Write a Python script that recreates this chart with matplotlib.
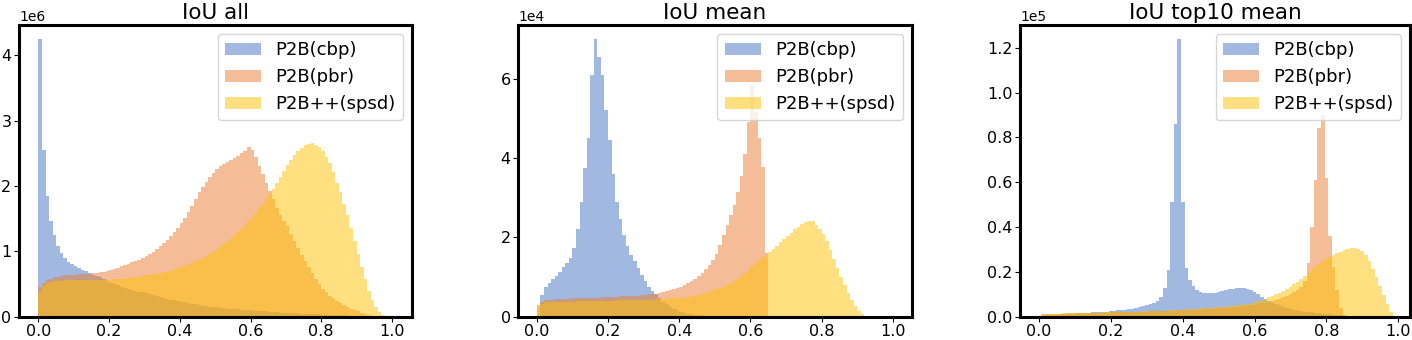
import numpy as np
import matplotlib
matplotlib.use('Agg')
import matplotlib.pyplot as plt

# histogram bin heights (100 bins per series)
labels = ['P2B(cbp)', 'P2B(pbr)', 'P2B++(spsd)']
titles = ['IoU all', 'IoU mean', 'IoU top10 mean']
scales = [1e6, 1e4, 1e5]
bin_start = [0.0, 0.0, 0.005]
bin_width = 0.01
x_ticks = [0.0, 0.2, 0.4, 0.6, 0.8, 1.0]
y_ticks = [[0, 1, 2, 3, 4],
           [0, 2, 4, 6],
           [0.0, 0.2, 0.4, 0.6, 0.8, 1.0, 1.2]]

# IoU all (x1e6)
blue_all = [4.25, 2.55, 1.85, 1.46, 1.25, 1.08, 0.98, 0.90, 0.84, 0.80,
            0.77, 0.74, 0.72, 0.70, 0.67, 0.64, 0.62, 0.60, 0.57, 0.55,
            0.52, 0.50, 0.48, 0.46, 0.44, 0.42, 0.41, 0.39, 0.38, 0.37,
            0.36, 0.34, 0.33, 0.31, 0.30, 0.29, 0.27, 0.26, 0.25, 0.24,
            0.23, 0.22, 0.21, 0.20, 0.19, 0.18, 0.17, 0.16, 0.155, 0.15,
            0.145, 0.14, 0.13, 0.125, 0.12, 0.115, 0.11, 0.105, 0.10, 0.10,
            0.095, 0.09, 0.085, 0.08, 0.08, 0.075, 0.07, 0.065, 0.06, 0.06,
            0.055, 0.055, 0.05, 0.05, 0.045, 0.045, 0.04, 0.04, 0.035, 0.035,
            0.03, 0.03, 0.03, 0.025, 0.025, 0.02, 0.02, 0.02, 0.015, 0.015,
            0.01, 0.01, 0.01, 0.008, 0.006, 0.005, 0.003, 0.002, 0.001, 0.0]
orange_all = [0.45, 0.52, 0.56, 0.58, 0.60, 0.61, 0.62, 0.63, 0.63, 0.64,
              0.64, 0.65, 0.65, 0.66, 0.66, 0.67, 0.67, 0.68, 0.69, 0.70,
              0.71, 0.73, 0.75, 0.77, 0.79, 0.81, 0.83, 0.85, 0.87, 0.90,
              0.93, 0.96, 0.99, 1.03, 1.08, 1.13, 1.18, 1.24, 1.30, 1.36,
              1.43, 1.51, 1.60, 1.70, 1.80, 1.90, 1.98, 2.06, 2.14, 2.20,
              2.26, 2.30, 2.34, 2.37, 2.40, 2.43, 2.46, 2.50, 2.54, 2.60,
              2.55, 2.45, 2.30, 2.18, 2.05, 1.93, 1.80, 1.67, 1.55, 1.47,
              1.38, 1.27, 1.16, 1.05, 0.95, 0.85, 0.76, 0.67, 0.58, 0.50,
              0.43, 0.37, 0.32, 0.28, 0.24, 0.21, 0.18, 0.15, 0.12, 0.10,
              0.08, 0.06, 0.04, 0.02, 0.01, 0.0, 0.0, 0.0, 0.0, 0.0]
yellow_all = [0.38, 0.47, 0.51, 0.53, 0.54, 0.55, 0.55, 0.56, 0.56, 0.56,
              0.56, 0.56, 0.56, 0.56, 0.56, 0.56, 0.56, 0.56, 0.56, 0.56,
              0.56, 0.57, 0.57, 0.58, 0.58, 0.59, 0.60, 0.60, 0.61, 0.62,
              0.63, 0.64, 0.65, 0.66, 0.67, 0.68, 0.69, 0.71, 0.72, 0.74,
              0.76, 0.78, 0.80, 0.82, 0.85, 0.87, 0.90, 0.93, 0.96, 0.99,
              1.03, 1.07, 1.11, 1.15, 1.20, 1.24, 1.29, 1.34, 1.40, 1.46,
              1.52, 1.59, 1.66, 1.73, 1.80, 1.87, 1.96, 2.05, 2.14, 2.23,
              2.32, 2.40, 2.47, 2.53, 2.58, 2.62, 2.64, 2.65, 2.63, 2.59,
              2.53, 2.45, 2.35, 2.22, 2.05, 1.90, 1.72, 1.55, 1.36, 1.16,
              0.96, 0.76, 0.57, 0.40, 0.26, 0.15, 0.07, 0.02, 0.0, 0.0]

# IoU mean (x1e4)
blue_mean = [0.0, 0.55, 0.76, 0.86, 0.95, 1.03, 1.12, 1.25, 1.36, 1.47,
             1.72, 2.20, 2.90, 3.75, 4.50, 6.10, 7.00, 6.55, 6.10, 5.20,
             4.45, 3.60, 2.90, 2.45, 2.05, 1.78, 1.55, 1.40, 1.22, 1.05,
             0.90, 0.75, 0.65, 0.56, 0.46, 0.38, 0.31, 0.25, 0.20, 0.16,
             0.13, 0.10, 0.08, 0.06, 0.05, 0.04, 0.03, 0.025, 0.02, 0.015,
             0.01, 0.01, 0.01, 0.008, 0.008, 0.006, 0.006, 0.005, 0.005, 0.005,
             0.0, 0.0, 0.0, 0.0, 0.0, 0.0, 0.0, 0.0, 0.0, 0.0,
             0.0, 0.0, 0.0, 0.0, 0.0, 0.0, 0.0, 0.0, 0.0, 0.0,
             0.0, 0.0, 0.0, 0.0, 0.0, 0.0, 0.0, 0.0, 0.0, 0.0,
             0.0, 0.0, 0.0, 0.0, 0.0, 0.0, 0.0, 0.0, 0.0, 0.0]
orange_mean = [0.30, 0.38, 0.41, 0.42, 0.43, 0.44, 0.44, 0.45, 0.45, 0.46,
               0.46, 0.46, 0.47, 0.47, 0.47, 0.48, 0.48, 0.48, 0.49, 0.49,
               0.49, 0.50, 0.50, 0.51, 0.51, 0.52, 0.52, 0.53, 0.53, 0.54,
               0.55, 0.56, 0.57, 0.58, 0.60, 0.62, 0.64, 0.66, 0.69, 0.72,
               0.76, 0.80, 0.85, 0.90, 0.96, 1.03, 1.10, 1.19, 1.29, 1.42,
               1.58, 1.80, 2.05, 2.30, 2.55, 2.82, 3.15, 3.55, 4.10, 4.90,
               5.80, 5.15, 4.50, 3.76, 1.60, 0.0, 0.0, 0.0, 0.0, 0.0,
               0.0, 0.0, 0.0, 0.0, 0.0, 0.0, 0.0, 0.0, 0.0, 0.0,
               0.0, 0.0, 0.0, 0.0, 0.0, 0.0, 0.0, 0.0, 0.0, 0.0,
               0.0, 0.0, 0.0, 0.0, 0.0, 0.0, 0.0, 0.0, 0.0, 0.0]
yellow_mean = [0.25, 0.33, 0.36, 0.37, 0.38, 0.38, 0.38, 0.38, 0.38, 0.38,
               0.38, 0.39, 0.39, 0.39, 0.39, 0.39, 0.39, 0.39, 0.40, 0.40,
               0.40, 0.40, 0.41, 0.41, 0.41, 0.41, 0.42, 0.42, 0.42, 0.42,
               0.43, 0.43, 0.43, 0.44, 0.44, 0.45, 0.45, 0.46, 0.46, 0.47,
               0.47, 0.48, 0.50, 0.51, 0.53, 0.55, 0.57, 0.60, 0.63, 0.66,
               0.69, 0.72, 0.76, 0.80, 0.85, 0.90, 0.96, 1.03, 1.10, 1.18,
               1.26, 1.34, 1.42, 1.50, 1.56, 1.62, 1.70, 1.78, 1.87, 1.96,
               2.04, 2.12, 2.20, 2.27, 2.33, 2.38, 2.41, 2.40, 2.32, 2.22,
               2.08, 1.90, 1.68, 1.45, 1.22, 1.00, 0.80, 0.60, 0.42, 0.27,
               0.15, 0.06, 0.02, 0.0, 0.0, 0.0, 0.0, 0.0, 0.0, 0.0]

# IoU top10 mean (x1e5)
blue_top10 = [0.005, 0.006, 0.007, 0.008, 0.009, 0.010, 0.011, 0.012, 0.013, 0.014,
              0.015, 0.016, 0.017, 0.018, 0.019, 0.020, 0.021, 0.022, 0.023, 0.024,
              0.026, 0.028, 0.030, 0.032, 0.034, 0.036, 0.039, 0.042, 0.046, 0.050,
              0.055, 0.062, 0.072, 0.090, 0.127, 0.210, 0.510, 0.860, 1.240, 0.510,
              0.217, 0.165, 0.137, 0.120, 0.112, 0.107, 0.105, 0.105, 0.107, 0.110,
              0.114, 0.118, 0.122, 0.125, 0.127, 0.128, 0.126, 0.122, 0.117, 0.110,
              0.100, 0.090, 0.080, 0.071, 0.063, 0.056, 0.050, 0.045, 0.040, 0.036,
              0.032, 0.029, 0.026, 0.023, 0.021, 0.019, 0.017, 0.015, 0.013, 0.011,
              0.010, 0.009, 0.008, 0.007, 0.006, 0.005, 0.004, 0.003, 0.002, 0.002,
              0.001, 0.0, 0.0, 0.0, 0.0, 0.0, 0.0, 0.0, 0.0, 0.0]
orange_top10 = [0.012, 0.013, 0.013, 0.013, 0.014, 0.014, 0.014, 0.015, 0.015, 0.015,
                0.016, 0.016, 0.016, 0.017, 0.017, 0.017, 0.018, 0.018, 0.018, 0.019,
                0.019, 0.020, 0.020, 0.020, 0.021, 0.021, 0.022, 0.022, 0.023, 0.023,
                0.024, 0.024, 0.025, 0.025, 0.026, 0.026, 0.027, 0.027, 0.028, 0.028,
                0.029, 0.030, 0.030, 0.031, 0.032, 0.033, 0.034, 0.035, 0.036, 0.037,
                0.038, 0.039, 0.041, 0.042, 0.044, 0.045, 0.047, 0.049, 0.051, 0.053,
                0.056, 0.059, 0.062, 0.066, 0.070, 0.075, 0.080, 0.086, 0.093, 0.101,
                0.110, 0.120, 0.132, 0.160, 0.240, 0.400, 0.610, 0.840, 0.900, 0.620,
                0.360, 0.220, 0.120, 0.040, 0.0, 0.0, 0.0, 0.0, 0.0, 0.0,
                0.0, 0.0, 0.0, 0.0, 0.0, 0.0, 0.0, 0.0, 0.0, 0.0]
yellow_top10 = [0.012, 0.013, 0.013, 0.014, 0.014, 0.014, 0.015, 0.015, 0.015, 0.016,
                0.016, 0.016, 0.017, 0.017, 0.017, 0.018, 0.018, 0.019, 0.019, 0.019,
                0.020, 0.020, 0.021, 0.021, 0.022, 0.022, 0.023, 0.023, 0.024, 0.024,
                0.025, 0.025, 0.026, 0.027, 0.027, 0.028, 0.029, 0.030, 0.031, 0.032,
                0.033, 0.034, 0.035, 0.036, 0.037, 0.038, 0.039, 0.040, 0.041, 0.042,
                0.043, 0.044, 0.046, 0.048, 0.050, 0.052, 0.055, 0.058, 0.062, 0.066,
                0.070, 0.075, 0.080, 0.086, 0.092, 0.099, 0.106, 0.114, 0.122, 0.131,
                0.145, 0.155, 0.167, 0.180, 0.195, 0.210, 0.224, 0.236, 0.247, 0.257,
                0.266, 0.275, 0.283, 0.290, 0.296, 0.301, 0.305, 0.307, 0.302, 0.293,
                0.275, 0.250, 0.215, 0.175, 0.135, 0.095, 0.055, 0.020, 0.0, 0.0]

panels = [
    [blue_all, orange_all, yellow_all],
    [blue_mean, orange_mean, yellow_mean],
    [blue_top10, orange_top10, yellow_top10],
]

colors = ['#4472C4', '#ED7D31', '#FFC000']

# axes boxes in figure fraction and x limits, matched to the reference layout
positions = [[0.0135, 0.0686, 0.2783, 0.858],
             [0.3671, 0.0686, 0.2786, 0.858],
             [0.7224, 0.0686, 0.2762, 0.858]]
xlims = [(-0.055, 1.057), (-0.052, 1.053), (-0.053, 1.033)]

fig = plt.figure(figsize=(14.12, 3.4), dpi=100)

for i, series in enumerate(panels):
    ax = fig.add_axes(positions[i])
    for values, color, label in zip(series, colors, labels):
        heights = np.array(values) * scales[i]
        edges = bin_start[i] + bin_width * np.arange(len(heights) + 1)
        ax.hist(edges[:-1], bins=edges, weights=heights, color=color,
                alpha=0.5, label=label)
    top = max(max(s) for s in series) * scales[i] * 1.05
    ax.set_ylim(0, top)
    ax.set_xlim(*xlims[i])
    ax.set_xticks(x_ticks)
    ax.set_yticks(np.array(y_ticks[i]) * scales[i])
    ax.ticklabel_format(axis='y', style='sci', scilimits=(0, 0))
    ax.yaxis.get_offset_text().set_fontsize(10)
    ax.tick_params(labelsize=11.5, pad=2)
    for spine in ax.spines.values():
        spine.set_linewidth(2.2)
    ax.set_title(titles[i], fontsize=15.5, pad=4)
    ax.legend(loc='upper right', fontsize=13)

plt.savefig('out.png', dpi=100)
